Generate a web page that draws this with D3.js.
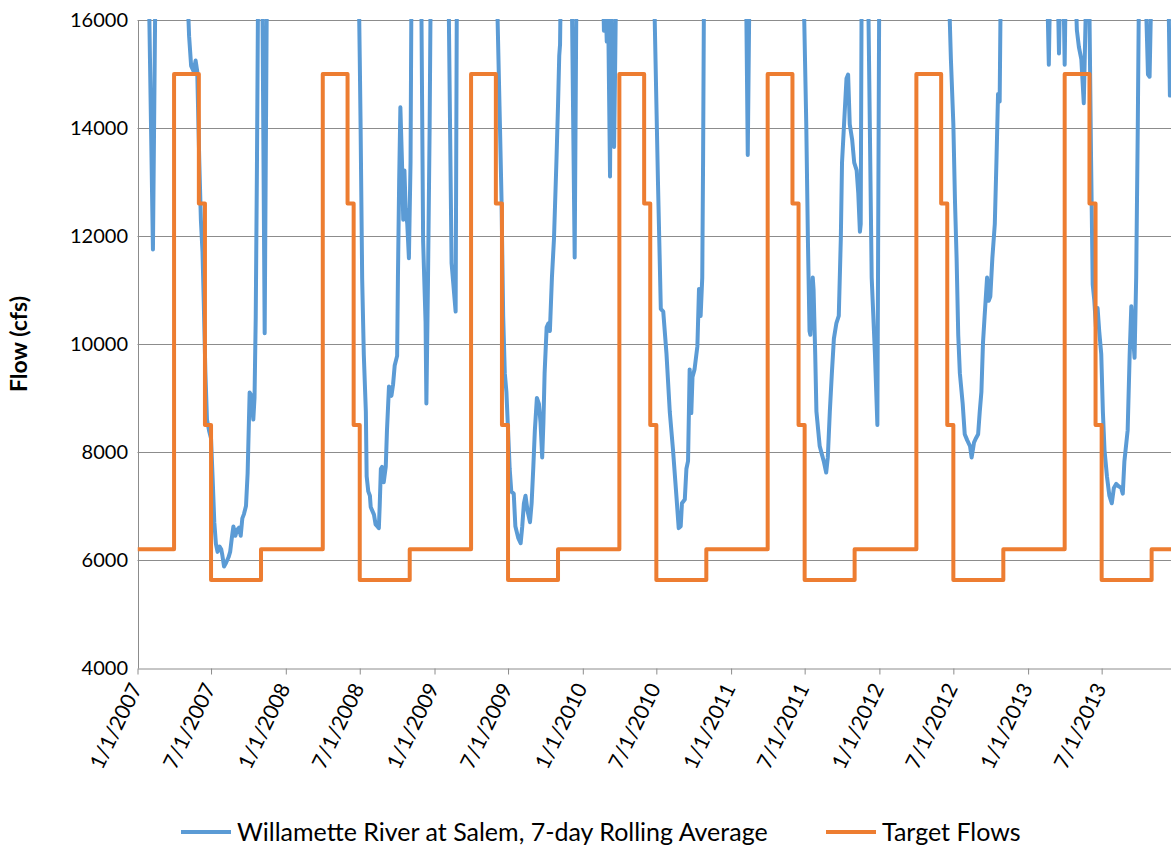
<!DOCTYPE html>
<html>
<head>
<meta charset="utf-8">
<script src="https://cdn.jsdelivr.net/npm/d3@7"></script>
<style>
  body { margin: 0; background: #ffffff; }
  text { font-family: Lato, "Liberation Sans", sans-serif; fill: #000; }
</style>
</head>
<body>
<svg id="chart" width="1171" height="848"></svg>
<script>
// Willamette River at Salem, 7-day rolling average flow (cfs), sampled readings
const flowSeries = [
  ["2007-01-01", 24000], ["2007-01-12", 21000], ["2007-01-24", 19000], ["2007-02-08", 11750],
  ["2007-02-17", 19000], ["2007-03-05", 30000], ["2007-04-10", 25000], ["2007-04-29", 17500],
  ["2007-05-08", 15700], ["2007-05-13", 15150], ["2007-05-19", 15050], ["2007-05-24", 15250],
  ["2007-05-28", 15050], ["2007-06-02", 13400], ["2007-06-06", 12300], ["2007-06-10", 11700],
  ["2007-06-13", 10800], ["2007-06-17", 9500], ["2007-06-21", 8600], ["2007-06-26", 8400],
  ["2007-07-01", 8250], ["2007-07-05", 7500], ["2007-07-09", 6700], ["2007-07-13", 6300],
  ["2007-07-17", 6150], ["2007-07-22", 6250], ["2007-07-26", 6200], ["2007-07-29", 6080],
  ["2007-08-02", 5880], ["2007-08-07", 5950], ["2007-08-13", 6050], ["2007-08-17", 6150],
  ["2007-08-21", 6400], ["2007-08-25", 6620], ["2007-08-30", 6450], ["2007-09-03", 6560],
  ["2007-09-08", 6600], ["2007-09-12", 6450], ["2007-09-16", 6770], ["2007-09-20", 6850],
  ["2007-09-25", 7000], ["2007-09-29", 7600], ["2007-10-04", 9100], ["2007-10-08", 9050],
  ["2007-10-13", 8600], ["2007-10-16", 9000], ["2007-10-19", 10500], ["2007-10-22", 13300],
  ["2007-10-26", 18000], ["2007-11-01", 19000], ["2007-11-03", 18000], ["2007-11-10", 10200],
  ["2007-11-17", 18500], ["2007-12-05", 35000], ["2007-12-20", 28000],
  ["2008-01-10", 45000], ["2008-02-05", 30000], ["2008-03-01", 38000], ["2008-04-01", 26000],
  ["2008-05-01", 32000], ["2008-06-01", 24000], ["2008-06-27", 17500], ["2008-07-01", 15300],
  ["2008-07-03", 14100], ["2008-07-07", 11200], ["2008-07-11", 9800], ["2008-07-16", 8750],
  ["2008-07-18", 7550], ["2008-07-22", 7270], ["2008-07-26", 7190], ["2008-07-28", 6980],
  ["2008-08-01", 6910], ["2008-08-05", 6840], ["2008-08-09", 6660], ["2008-08-13", 6625],
  ["2008-08-17", 6590], ["2008-08-19", 6980], ["2008-08-22", 7690], ["2008-08-25", 7725],
  ["2008-08-29", 7440], ["2008-09-03", 7725], ["2008-09-06", 8400], ["2008-09-11", 9215],
  ["2008-09-17", 9040], ["2008-09-21", 9250], ["2008-09-25", 9600], ["2008-10-01", 9780],
  ["2008-10-03", 11230], ["2008-10-06", 13000], ["2008-10-09", 14385], ["2008-10-13", 13360],
  ["2008-10-16", 12300], ["2008-10-19", 13215], ["2008-10-22", 12500], ["2008-10-26", 12220],
  ["2008-10-30", 11590], ["2008-11-03", 13360], ["2008-11-07", 19000], ["2008-11-18", 24000],
  ["2008-11-28", 18000], ["2008-12-04", 11900], ["2008-12-10", 10400], ["2008-12-12", 8900],
  ["2008-12-16", 11200], ["2008-12-20", 14000], ["2008-12-24", 18000],
  ["2009-01-10", 40000], ["2009-02-01", 19000], ["2009-02-12", 11500], ["2009-02-22", 10600],
  ["2009-02-25", 16500], ["2009-03-05", 26000], ["2009-04-01", 30000], ["2009-05-01", 24000],
  ["2009-06-02", 18000], ["2009-06-05", 16100], ["2009-06-11", 14070], ["2009-06-15", 12650],
  ["2009-06-19", 10520], ["2009-06-23", 9460], ["2009-06-27", 9110], ["2009-07-01", 8400],
  ["2009-07-05", 7690], ["2009-07-09", 7265], ["2009-07-15", 7230], ["2009-07-19", 6625],
  ["2009-07-26", 6410], ["2009-08-01", 6310], ["2009-08-05", 6625], ["2009-08-09", 7050],
  ["2009-08-13", 7190], ["2009-08-18", 6910], ["2009-08-24", 6700], ["2009-08-28", 7050],
  ["2009-09-01", 7690], ["2009-09-05", 8400], ["2009-09-10", 9000], ["2009-09-15", 8890],
  ["2009-09-19", 8540], ["2009-09-23", 7900], ["2009-09-26", 8540], ["2009-09-29", 9460],
  ["2009-10-04", 10310], ["2009-10-08", 10380], ["2009-10-12", 10240], ["2009-10-17", 11230],
  ["2009-10-22", 11940], ["2009-10-28", 13360], ["2009-11-01", 14420], ["2009-11-04", 15340],
  ["2009-11-06", 15550], ["2009-11-10", 18000], ["2009-11-20", 30000], ["2009-12-02", 18500],
  ["2009-12-12", 11600], ["2009-12-18", 18500],
  ["2010-01-05", 42000], ["2010-01-25", 30000], ["2010-02-16", 18000], ["2010-02-22", 15800],
  ["2010-02-25", 16600], ["2010-03-01", 15600], ["2010-03-04", 16400], ["2010-03-09", 13100],
  ["2010-03-12", 16300], ["2010-03-15", 15200], ["2010-03-19", 13650], ["2010-03-22", 15400],
  ["2010-03-26", 18000], ["2010-04-20", 26000], ["2010-05-20", 22000], ["2010-06-24", 18000],
  ["2010-06-27", 16000], ["2010-07-05", 13000], ["2010-07-12", 10650], ["2010-07-18", 10600],
  ["2010-07-26", 9815], ["2010-08-03", 8750], ["2010-08-11", 8040], ["2010-08-20", 7120],
  ["2010-08-25", 6590], ["2010-08-30", 6625], ["2010-09-02", 7050], ["2010-09-09", 7120],
  ["2010-09-13", 7690], ["2010-09-17", 7830], ["2010-09-21", 9530], ["2010-09-25", 8720],
  ["2010-09-28", 9390], ["2010-10-03", 9530], ["2010-10-10", 9960], ["2010-10-14", 11020],
  ["2010-10-18", 10520], ["2010-10-22", 11230], ["2010-10-24", 13360], ["2010-10-28", 19000],
  ["2010-11-20", 35000], ["2010-12-15", 45000],
  ["2011-01-15", 40000], ["2011-02-05", 18000], ["2011-02-11", 13500], ["2011-02-17", 18000],
  ["2011-03-15", 40000], ["2011-04-15", 32000], ["2011-05-20", 26000], ["2011-06-27", 18000],
  ["2011-06-30", 16000], ["2011-07-05", 14070], ["2011-07-09", 11940], ["2011-07-13", 10240],
  ["2011-07-15", 10170], ["2011-07-21", 11230], ["2011-07-23", 11000], ["2011-07-27", 9815],
  ["2011-07-30", 8750], ["2011-08-07", 8110], ["2011-08-12", 7970], ["2011-08-17", 7830],
  ["2011-08-23", 7620], ["2011-08-27", 7900], ["2011-09-01", 8750], ["2011-09-06", 9460],
  ["2011-09-11", 10100], ["2011-09-17", 10380], ["2011-09-23", 10520], ["2011-09-28", 11940],
  ["2011-10-01", 13360], ["2011-10-06", 14070], ["2011-10-12", 14915], ["2011-10-16", 14990],
  ["2011-10-20", 14070], ["2011-10-26", 13780], ["2011-10-31", 13360], ["2011-11-06", 13215],
  ["2011-11-10", 12790], ["2011-11-14", 12080], ["2011-11-16", 12220], ["2011-11-19", 18000],
  ["2011-11-26", 25000], ["2011-12-02", 18000], ["2011-12-13", 11230], ["2011-12-21", 9815],
  ["2011-12-27", 8500],
  ["2012-01-02", 19000], ["2012-01-25", 40000], ["2012-03-01", 45000], ["2012-04-10", 35000],
  ["2012-05-15", 28000], ["2012-06-18", 18000], ["2012-06-21", 16300], ["2012-06-25", 15270],
  ["2012-07-01", 14070], ["2012-07-05", 12650], ["2012-07-09", 11590], ["2012-07-13", 10170],
  ["2012-07-17", 9460], ["2012-07-24", 8890], ["2012-07-29", 8330], ["2012-08-04", 8220],
  ["2012-08-11", 8110], ["2012-08-15", 7900], ["2012-08-21", 8180], ["2012-08-26", 8260],
  ["2012-08-31", 8330], ["2012-09-04", 8750], ["2012-09-08", 9110], ["2012-09-12", 10030],
  ["2012-09-16", 10520], ["2012-09-22", 11230], ["2012-09-26", 10800], ["2012-09-30", 10880],
  ["2012-10-05", 11590], ["2012-10-11", 12220], ["2012-10-15", 13360], ["2012-10-19", 14630],
  ["2012-10-23", 14490], ["2012-10-28", 18500], ["2012-11-20", 32000], ["2012-12-20", 40000],
  ["2013-01-20", 28000], ["2013-02-13", 18000], ["2013-02-21", 15170], ["2013-02-26", 17500],
  ["2013-03-08", 20000], ["2013-03-14", 17000], ["2013-03-18", 15380], ["2013-03-21", 16800],
  ["2013-03-27", 17500], ["2013-04-01", 15170], ["2013-04-05", 17500], ["2013-04-20", 21000],
  ["2013-04-28", 16500], ["2013-05-01", 15815], ["2013-05-06", 15500], ["2013-05-12", 15270],
  ["2013-05-18", 14460], ["2013-05-23", 16200], ["2013-05-30", 17500], ["2013-06-05", 13400],
  ["2013-06-09", 11100], ["2013-06-13", 10800], ["2013-06-17", 10310], ["2013-06-21", 10665],
  ["2013-06-25", 10240], ["2013-06-30", 9815], ["2013-07-04", 8750], ["2013-07-08", 8040],
  ["2013-07-14", 7550], ["2013-07-20", 7190], ["2013-07-26", 7050], ["2013-07-31", 7335],
  ["2013-08-06", 7410], ["2013-08-11", 7370], ["2013-08-18", 7335], ["2013-08-22", 7230],
  ["2013-08-26", 7830], ["2013-09-03", 8400], ["2013-09-08", 9815], ["2013-09-12", 10700],
  ["2013-09-16", 10170], ["2013-09-20", 9745], ["2013-09-24", 11230], ["2013-09-28", 14070],
  ["2013-10-03", 18500], ["2013-10-12", 18000], ["2013-10-23", 14990], ["2013-10-27", 14950],
  ["2013-11-04", 18000], ["2013-11-20", 30000], ["2013-12-08", 19000], ["2013-12-16", 14600]
];

// Target flow schedule: date each level takes effect
const targetDates = [
  "2007-01-01", "2007-04-01", "2007-06-01", "2007-06-16", "2007-07-01", "2007-11-01",
  "2008-04-01", "2008-06-01", "2008-06-16", "2008-07-01", "2008-11-01",
  "2009-04-01", "2009-06-01", "2009-06-16", "2009-07-01", "2009-11-01",
  "2010-04-01", "2010-06-01", "2010-06-16", "2010-07-01", "2010-11-01",
  "2011-04-01", "2011-06-01", "2011-06-16", "2011-07-01", "2011-11-01",
  "2012-04-01", "2012-06-01", "2012-06-16", "2012-07-01", "2012-11-01",
  "2013-04-01", "2013-06-01", "2013-06-16", "2013-07-01", "2013-11-01",
  "2013-12-31"
];
const targetCfs = [
  6200, 15000, 12600, 8500, 5630, 6200,
  15000, 12600, 8500, 5630, 6200,
  15000, 12600, 8500, 5630, 6200,
  15000, 12600, 8500, 5630, 6200,
  15000, 12600, 8500, 5630, 6200,
  15000, 12600, 8500, 5630, 6200,
  15000, 12600, 8500, 5630, 6200,
  6200
];

const yTicks = [4000, 6000, 8000, 10000, 12000, 14000, 16000];
const xTickDates = [
  "2007-01-01", "2007-07-01", "2008-01-01", "2008-07-01", "2009-01-01", "2009-07-01",
  "2010-01-01", "2010-07-01", "2011-01-01", "2011-07-01", "2012-01-01", "2012-07-01",
  "2013-01-01", "2013-07-01"
];
const seriesNames = ["Willamette River at Salem, 7-day Rolling Average", "Target Flows"];
const seriesColors = ["#5B9BD5", "#ED7D31"];
const axisTitle = "Flow (cfs)";

const parse = d3.timeParse("%Y-%m-%d");
const plot = { left: 137.5, top: 20, right: 1176, bottom: 668 };
const fontStack = "Lato, 'Liberation Sans', sans-serif";

const svg = d3.select("#chart");
svg.append("rect").attr("width", 1171).attr("height", 848).attr("fill", "#fff");

const x = d3.scaleTime()
  .domain([parse("2007-01-01"), parse("2013-12-31")])
  .range([plot.left, plot.right]);
const y = d3.scaleLinear().domain([4000, 16000]).range([plot.bottom, plot.top]);

const gridColor = "#8c8c8c";

// horizontal gridlines
svg.append("g")
  .selectAll("line")
  .data(yTicks.filter(v => v !== 4000))
  .join("line")
  .attr("x1", plot.left).attr("x2", plot.right)
  .attr("y1", d => Math.round(y(d)) + 0.5).attr("y2", d => Math.round(y(d)) + 0.5)
  .attr("stroke", gridColor).attr("stroke-width", 1);

// y axis
const yAxis = svg.append("g")
  .attr("transform", `translate(${plot.left + 0.5},0)`)
  .call(d3.axisLeft(y).tickValues(yTicks).tickSize(0).tickPadding(10).tickFormat(d3.format("d")));
yAxis.select(".domain").attr("stroke", gridColor);
yAxis.selectAll("text").attr("font-size", 20).attr("font-family", fontStack).attr("fill", "#000");

// x axis
const xAxis = svg.append("g")
  .attr("transform", `translate(0,${plot.bottom + 0.5})`)
  .call(d3.axisBottom(x).tickValues(xTickDates.map(parse)).tickSize(6).tickSizeOuter(0)
    .tickFormat(d3.timeFormat("%-m/%-d/%Y")));
xAxis.select(".domain").attr("stroke", gridColor);
xAxis.selectAll(".tick line").attr("stroke", gridColor);
xAxis.selectAll("text")
  .attr("font-size", 21)
  .attr("font-family", fontStack)
  .attr("fill", "#000")
  .attr("text-anchor", "end")
  .attr("x", 0)
  .attr("y", 0)
  .attr("dy", "0.35em")
  .attr("transform", "translate(-2,16) rotate(-64)");

// y axis title
svg.append("text")
  .attr("transform", `translate(27,344) rotate(-90)`)
  .attr("text-anchor", "middle")
  .attr("font-size", 23)
  .attr("font-weight", "bold")
  .text(axisTitle);

// clip lines to the plot area
svg.append("clipPath").attr("id", "plotClip")
  .append("rect")
  .attr("x", plot.left).attr("y", plot.top - 1)
  .attr("width", plot.right - plot.left).attr("height", plot.bottom - plot.top + 1);

const lines = svg.append("g").attr("clip-path", "url(#plotClip)");

const flowLine = d3.line()
  .x(d => x(parse(d[0])))
  .y(d => y(d[1]));

lines.append("path")
  .datum(flowSeries)
  .attr("d", flowLine)
  .attr("fill", "none")
  .attr("stroke", seriesColors[0])
  .attr("stroke-width", 4)
  .attr("stroke-linejoin", "round")
  .attr("stroke-linecap", "round");

const targetLine = d3.line()
  .curve(d3.curveStepAfter)
  .x((d, i) => x(parse(targetDates[i])))
  .y(d => y(d));

lines.append("path")
  .datum(targetCfs)
  .attr("d", targetLine)
  .attr("fill", "none")
  .attr("stroke", seriesColors[1])
  .attr("stroke-width", 4)
  .attr("stroke-linejoin", "round");

// legend
const legendItems = [
  { name: seriesNames[0], color: seriesColors[0], x: 181 },
  { name: seriesNames[1], color: seriesColors[1], x: 826 }
];
const lg = svg.append("g");
legendItems.forEach(item => {
  lg.append("line")
    .attr("x1", item.x).attr("x2", item.x + 50)
    .attr("y1", 832).attr("y2", 832)
    .attr("stroke", item.color).attr("stroke-width", 4);
  lg.append("text")
    .attr("x", item.x + 56).attr("y", 832)
    .attr("dy", "0.35em")
    .attr("font-size", 25)
    .text(item.name);
});
</script>
</body>
</html>
